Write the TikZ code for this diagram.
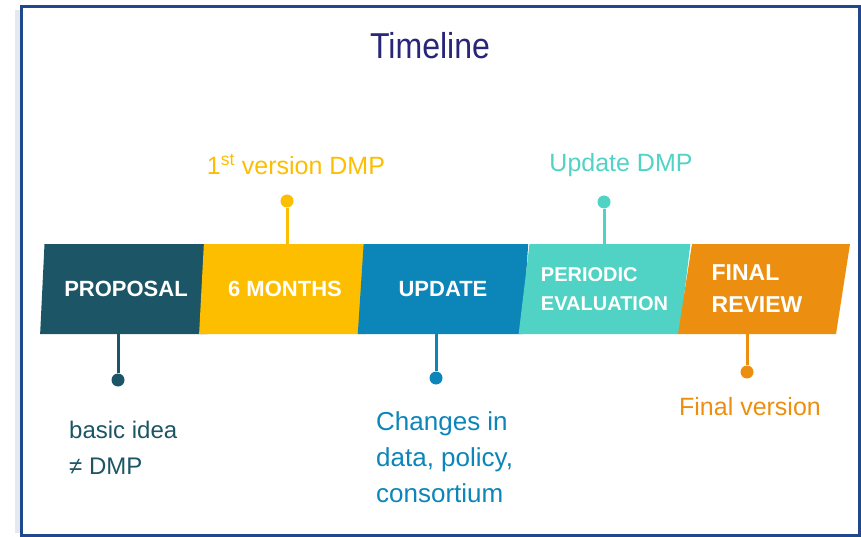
\documentclass[tikz,border=0pt]{standalone}
\usepackage{fontspec}
\usepackage{graphicx}
\setmainfont{Liberation Sans}
\usetikzlibrary{shapes.geometric}

\begin{document}
\begin{tikzpicture}[x=1pt, y=-1pt,
    phase/.style={trapezium, trapezium left angle=78, trapezium right angle=102,
        trapezium stretches=true, minimum width=172pt, minimum height=90pt,
        inner sep=0pt, text=white, align=left,
        font=\fontsize{22}{30}\selectfont\bfseries},
    pin/.style={circle, inner sep=0pt, minimum size=13pt},
    stem/.style={line width=3pt},
    note/.style={align=left, font=\fontsize{25}{36}\selectfont}]
    % Define colors
    \definecolor{framecol}{RGB}{31, 73, 140}
    \definecolor{titlecol}{RGB}{40, 38, 120}
    \definecolor{proposalcol}{RGB}{27, 85, 102}
    \definecolor{monthscol}{RGB}{253, 190, 0}
    \definecolor{updatecol}{RGB}{12, 133, 185}
    \definecolor{periodiccol}{RGB}{80, 211, 196}
    \definecolor{finalcol}{RGB}{236, 143, 16}

    \def\bandy{289}
    \def\downy{378}

    \useasboundingbox (0,0) rectangle (861,537);

    % Draw the frame
    \fill[framecol!12] (15,10) rectangle (20,533);
    \draw[framecol, line width=3pt] (21,7) rectangle (859,535.5);

    % Title
    \node[anchor=base, text=titlecol, font=\fontsize{36}{40}\selectfont] (title)
        at (430,59) {\scalebox{0.89}[1]{Timeline}};

    % Draw the phases
    \node[phase, fill=proposalcol] (proposal) at (126,\bandy) {PROPOSAL};
    \node[phase, fill=monthscol] (months) at (285,\bandy) {6 MONTHS};
    \node[phase, fill=updatecol] (update) at (443,\bandy) {UPDATE};
    \node[phase, fill=periodiccol, font=\fontsize{20}{29}\selectfont\bfseries] (periodic)
        at (604.5,\bandy) {PERIODIC\\EVALUATION};
    \node[phase, fill=finalcol, font=\fontsize{23}{32}\selectfont\bfseries] (final)
        at (764,\bandy) {FINAL\\REVIEW\hspace*{14pt}};

    % Draw the pins
    \node[pin, fill=proposalcol] (pinproposal) at (118,380) {};
    \node[pin, fill=monthscol] (pinmonths) at (287,201) {};
    \node[pin, fill=updatecol] (pinupdate) at (436,\downy) {};
    \node[pin, fill=periodiccol] (pinperiodic) at (604,202) {};
    \node[pin, fill=finalcol] (pinfinal) at (747,372) {};

    \draw[stem, proposalcol] (pinproposal) -- (pinproposal |- proposal.south);
    \draw[stem, monthscol] (pinmonths) -- (pinmonths |- months.north);
    \draw[stem, updatecol] (pinupdate) -- (pinupdate |- update.south);
    \draw[stem, periodiccol] (pinperiodic) -- (pinperiodic |- periodic.north);
    \draw[stem, finalcol] (pinfinal) -- (pinfinal |- final.south);

    % Labels
    \node[note, anchor=base, text=monthscol] (notemonths) at (296,175)
        {1\textsuperscript{st} version DMP};
    \node[note, anchor=base, text=periodiccol] (noteperiodic) at (621,172)
        {Update DMP};
    \node[note, anchor=base, text=finalcol] (notefinal) at (750,415)
        {Final version};
    \node[note, anchor=base west, inner sep=0pt, text=proposalcol,
        font=\fontsize{24}{36}\selectfont] (noteproposal) at (69,474)
        {basic idea\\≠ DMP};
    \node[note, anchor=base west, inner sep=0pt, text=updatecol,
        font=\fontsize{26}{36}\selectfont] (noteupdate) at (376,502)
        {Changes in\\data, policy,\\consortium};
\end{tikzpicture}
\end{document}
